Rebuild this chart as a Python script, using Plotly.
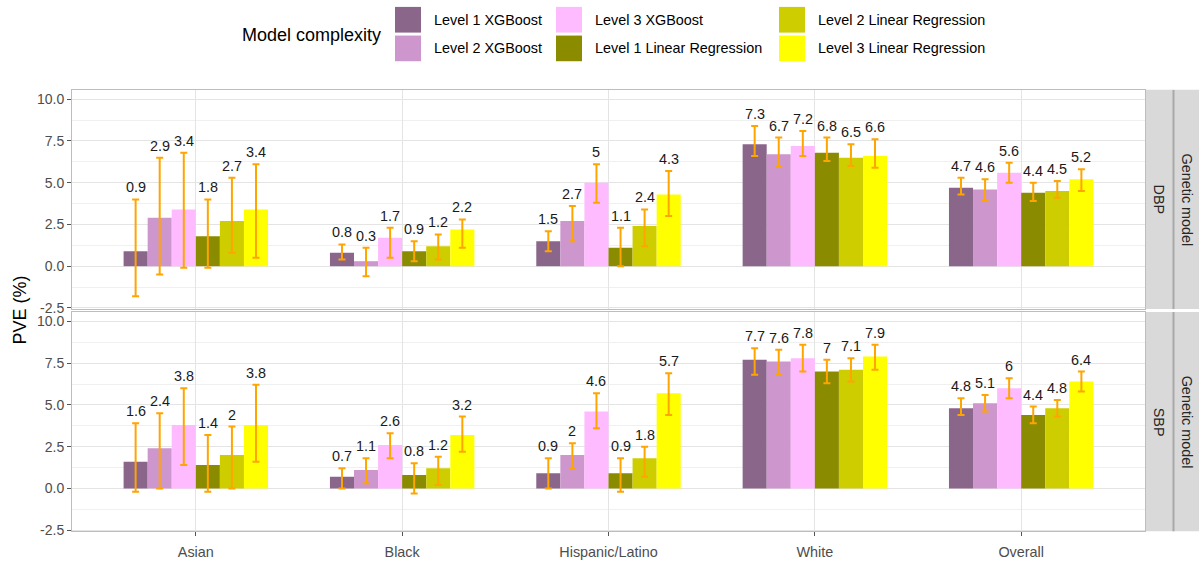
import plotly.graph_objects as go

# ---- data -------------------------------------------------------------
categories = ["Asian", "Black", "Hispanic/Latino", "White", "Overall"]
series_names = [
    "Level 1 XGBoost", "Level 2 XGBoost", "Level 3 XGBoost",
    "Level 1 Linear Regression", "Level 2 Linear Regression", "Level 3 Linear Regression",
]
series_colors = ["#8B668B", "#CD96CD", "#FFBBFF", "#8B8B00", "#CDCD00", "#FFFF00"]
panels = ["DBP", "SBP"]
facet_outer = "Genetic model"

dbp_values = [
    [0.9, 0.8, 1.5, 7.3, 4.7],
    [2.9, 0.3, 2.7, 6.7, 4.6],
    [3.4, 1.7, 5.0, 7.2, 5.6],
    [1.8, 0.9, 1.1, 6.8, 4.4],
    [2.7, 1.2, 2.4, 6.5, 4.5],
    [3.4, 2.2, 4.3, 6.6, 5.2],
]
dbp_lower = [
    [-1.8, 0.4, 0.9, 6.6, 4.3],
    [-0.5, -0.6, 1.5, 6.0, 3.9],
    [-0.1, 0.5, 3.8, 6.6, 5.0],
    [-0.1, 0.3, 0.0, 6.3, 3.9],
    [0.8, 0.4, 1.2, 6.0, 4.1],
    [0.5, 1.1, 3.0, 5.9, 4.5],
]
dbp_upper = [
    [4.0, 1.3, 2.1, 8.4, 5.3],
    [6.5, 1.1, 3.6, 7.7, 5.2],
    [6.8, 2.3, 6.1, 8.1, 6.2],
    [4.0, 1.5, 2.3, 7.7, 5.0],
    [5.3, 1.9, 3.4, 7.3, 5.1],
    [6.1, 2.8, 5.7, 7.6, 5.8],
]

sbp_values = [
    [1.6, 0.7, 0.9, 7.7, 4.8],
    [2.4, 1.1, 2.0, 7.6, 5.1],
    [3.8, 2.6, 4.6, 7.8, 6.0],
    [1.4, 0.8, 0.9, 7.0, 4.4],
    [2.0, 1.2, 1.8, 7.1, 4.8],
    [3.8, 3.2, 5.7, 7.9, 6.4],
]
sbp_lower = [
    [-0.2, 0.0, 0.0, 6.8, 4.4],
    [0.0, 0.3, 1.2, 6.8, 4.6],
    [1.4, 1.8, 3.6, 7.0, 5.4],
    [-0.2, -0.3, -0.2, 6.3, 3.9],
    [0.0, 0.2, 0.7, 6.4, 4.3],
    [1.6, 2.2, 4.4, 7.1, 5.8],
]
sbp_upper = [
    [3.9, 1.2, 1.8, 8.4, 5.4],
    [4.5, 1.8, 2.7, 8.3, 5.6],
    [6.0, 3.3, 5.7, 8.6, 6.6],
    [3.2, 1.5, 1.8, 7.7, 4.9],
    [3.7, 1.9, 2.5, 7.8, 5.3],
    [6.2, 4.3, 6.9, 8.6, 7.0],
]

y_ticks = [-2.5, 0.0, 2.5, 5.0, 7.5, 10.0]

# ---- geometry / style -------------------------------------------------
W, H = 1199, 562
FONT = "Liberation Sans, Arial, Helvetica, sans-serif"
PANEL_L, PANEL_R = 72, 1145
TOP_PANEL = (91, 313)
BOT_PANEL = (316, 538)
Y_RANGE = [-2.57, 10.56]
BAR_GAP = 0.3


def px_x(px):
    return px / W


def px_y(py):
    return 1 - py / H


panel_data = {
    "DBP": (dbp_values, dbp_lower, dbp_upper, "x2", "y2", TOP_PANEL),
    "SBP": (sbp_values, sbp_lower, sbp_upper, "x", "y", BOT_PANEL),
}

fig = go.Figure()
annotations = []
shapes = []

n_series = len(series_names)
slot = (1 - BAR_GAP) / n_series

for panel in panels:
    vals, lows, ups, xa, ya, (ptop, pbot) = panel_data[panel]
    for j, name in enumerate(series_names):
        v, lo, up = vals[j], lows[j], ups[j]
        fig.add_trace(go.Bar(
            x=categories, y=v, name=name,
            marker=dict(color=series_colors[j], line=dict(width=0)),
            error_y=dict(
                type="data", symmetric=False,
                array=[u - a for u, a in zip(up, v)],
                arrayminus=[a - l for a, l in zip(v, lo)],
                color="#FFA500", thickness=2, width=3.5,
            ),
            xaxis=xa, yaxis=ya, showlegend=False, hoverinfo="skip",
        ))
        # value label above the top of each interval
        for i, (a, u) in enumerate(zip(v, up)):
            xpos = i - (1 - BAR_GAP) / 2 + (j + 0.5) * slot
            annotations.append(dict(
                x=xpos, y=u, xref=xa, yref=ya, text=f"{a:g}",
                showarrow=False, xanchor="center", yanchor="middle", yshift=12,
                font=dict(family=FONT, size=14.4, color="#1A1A1A"),
            ))

    # facet strips on the right
    s1 = (PANEL_R, 1173)
    s2 = (1174, W)
    for (sx0, sx1) in (s1, s2):
        shapes.append(dict(
            type="rect", xref="paper", yref="paper", layer="below",
            x0=px_x(sx0), x1=px_x(sx1), y0=px_y(pbot), y1=px_y(ptop),
            fillcolor="#D9D9D9", line=dict(width=0),
        ))
    shapes.append(dict(
        type="line", xref="paper", yref="paper",
        x0=px_x(1173.5), x1=px_x(1173.5), y0=px_y(pbot), y1=px_y(ptop),
        line=dict(color="#A8A8A8", width=2),
    ))
    ymid = px_y((ptop + pbot) / 2)
    annotations.append(dict(
        x=px_x((s1[0] + s1[1]) / 2), y=ymid, xref="paper", yref="paper",
        xanchor="center", yanchor="middle",
        text=panel, textangle=90, showarrow=False,
        font=dict(family=FONT, size=14.4, color="#262626"),
    ))
    annotations.append(dict(
        x=px_x((s2[0] + s2[1]) / 2 + 0.5), y=ymid, xref="paper", yref="paper",
        xanchor="center", yanchor="middle",
        text=facet_outer, textangle=90, showarrow=False,
        font=dict(family=FONT, size=14.4, color="#262626"),
    ))

# y-axis title shared by both panels
annotations.append(dict(
    x=px_x(20), y=px_y((TOP_PANEL[0] + BOT_PANEL[1]) / 2), xref="paper", yref="paper",
    xanchor="center", yanchor="middle",
    text="PVE (%)", textangle=-90, showarrow=False,
    font=dict(family=FONT, size=18, color="#000000"),
))

# legend: title plus a 2-row x 3-column block of keys
annotations.append(dict(
    x=px_x(383), y=px_y(35), xref="paper", yref="paper",
    xanchor="right", yanchor="middle",
    text="Model complexity", showarrow=False,
    font=dict(family=FONT, size=18, color="#000000"),
))
key_cols = [395, 556, 779]
key_rows = [7, 36]
KEY = 26
for j, name in enumerate(series_names):
    col, row = j // 2, j % 2
    kx, ky = key_cols[col], key_rows[row]
    shapes.append(dict(
        type="rect", xref="paper", yref="paper",
        x0=px_x(kx), x1=px_x(kx + KEY), y0=px_y(ky + KEY), y1=px_y(ky),
        fillcolor=series_colors[j], line=dict(width=0),
    ))
    annotations.append(dict(
        x=px_x(kx + 37), y=px_y(ky + KEY / 2), xref="paper", yref="paper",
        xanchor="left", yanchor="middle", text=name, showarrow=False,
        font=dict(family=FONT, size=14.4, color="#000000"),
    ))

GRID = "#E4E4E4"
MINOR = "#F0F0F0"
BORDER = "#BDBDBD"
TICKFONT = dict(family=FONT, size=14.4, color="#4D4D4D")

x_common = dict(
    type="category", categoryorder="array", categoryarray=categories,
    range=[-0.6, len(categories) - 0.4],
    domain=[px_x(PANEL_L), px_x(PANEL_R)],
    showgrid=True, gridcolor=GRID, gridwidth=1,
    showline=True, mirror=True, linecolor=BORDER, linewidth=1,
    zeroline=False, fixedrange=True,
)
y_common = dict(
    range=Y_RANGE, tickmode="array", tickvals=y_ticks,
    ticktext=[f"{t:.1f}" for t in y_ticks],
    showgrid=True, gridcolor=GRID, gridwidth=1.2,
    minor=dict(tickmode="array", tickvals=[t + 1.25 for t in y_ticks[:-1]],
               showgrid=True, gridcolor=MINOR, gridwidth=1, ticks=""),
    ticks="outside", ticklen=4, tickcolor="#555555", tickwidth=1,
    tickfont=dict(family=FONT, size=14, color="#4D4D4D"),
    showline=True, mirror=True, linecolor=BORDER, linewidth=1,
    zeroline=False, fixedrange=True,
)

fig.update_layout(
    width=W, height=H, autosize=False,
    margin=dict(l=0, r=0, t=0, b=0, pad=0),
    paper_bgcolor="white", plot_bgcolor="white",
    barmode="group", bargap=BAR_GAP, bargroupgap=0,
    font=dict(family=FONT),
    xaxis=dict(**x_common, anchor="y", ticks="outside", ticklen=4,
               tickcolor="#555555", tickfont=TICKFONT, ticklabelstandoff=3),
    xaxis2=dict(**x_common, anchor="y2", matches="x", showticklabels=False, ticks=""),
    yaxis=dict(**y_common, anchor="x",
               domain=[px_y(BOT_PANEL[1]), px_y(BOT_PANEL[0])]),
    yaxis2=dict(**y_common, anchor="x2",
                domain=[px_y(TOP_PANEL[1]), px_y(TOP_PANEL[0])]),
    annotations=annotations,
    shapes=shapes,
    showlegend=False,
)

fig.write_html("out.html")
